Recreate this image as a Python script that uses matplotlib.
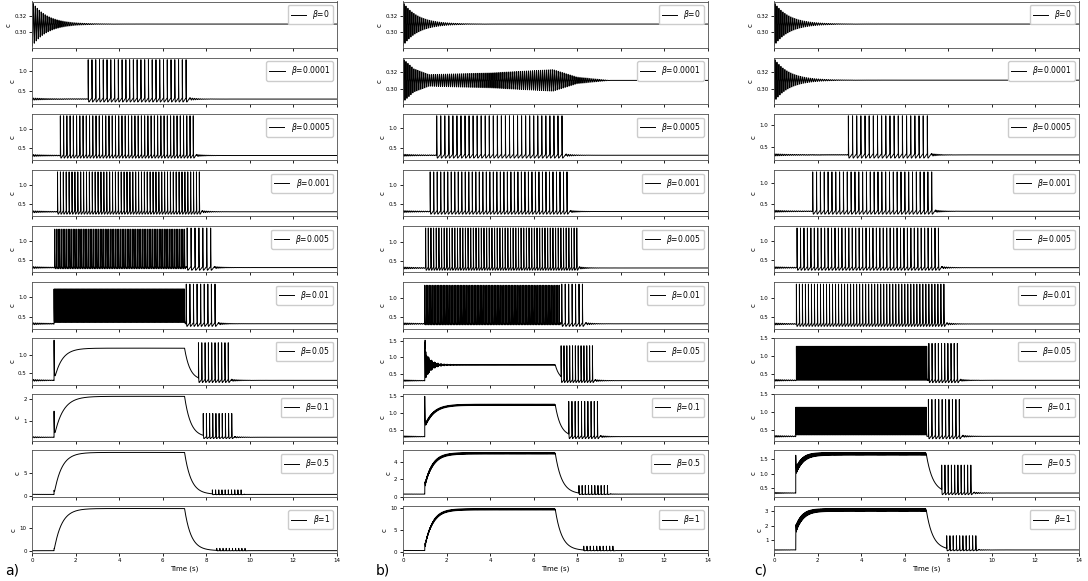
import numpy as np
import matplotlib.pyplot as plt

# time axis of the simulated runs (s)
t = np.linspace(0, 14, 28001)

betas = ['0', '0.0001', '0.0005', '0.001', '0.005', '0.01', '0.05', '0.1', '0.5', '1']
panel_tags = ['a)', 'b)', 'c)']

# resting level and the decaying ring at the start of every run
rest_c = 0.31
ring_amp, ring_tau, ring_hz = 0.026, 0.7, 11.0

# spike bursts: (first spike s, last spike s, number of spikes, peak c, trough c)
bursts_a = [
    [],
    [(2.57, 7.07, 27, 1.27, 0.21)],
    [(1.29, 7.40, 42, 1.34, 0.21)],
    [(1.16, 7.68, 50, 1.35, 0.21)],
    [(1.03, 7.00, 78, 1.32, 0.23), (7.12, 8.20, 7, 1.35, 0.21)],
    [(1.00, 7.00, 240, 1.22, 0.25), (7.08, 8.40, 9, 1.35, 0.21)],
    [(7.64, 9.01, 10, 1.35, 0.22)],
    [(7.86, 9.17, 10, 1.35, 0.22)],
    [(8.28, 9.60, 10, 1.30, 0.22)],
    [(8.48, 9.78, 10, 1.30, 0.22)],
]
bursts_b = [
    [],
    [],
    [(1.55, 7.31, 32, 1.32, 0.21)],
    [(1.25, 7.54, 40, 1.34, 0.21)],
    [(1.04, 7.99, 58, 1.36, 0.21)],
    [(1.00, 7.18, 88, 1.33, 0.23), (7.30, 8.25, 7, 1.36, 0.21)],
    [(7.27, 8.71, 12, 1.35, 0.22)],
    [(7.62, 8.94, 10, 1.35, 0.22)],
    [(8.09, 9.40, 10, 1.30, 0.22)],
    [(8.31, 9.65, 10, 1.30, 0.22)],
]
bursts_c = [
    [],
    [],
    [(3.42, 7.05, 20, 1.21, 0.21)],
    [(1.78, 7.25, 32, 1.28, 0.21)],
    [(1.06, 7.56, 42, 1.35, 0.21)],
    [(1.03, 7.81, 50, 1.37, 0.21)],
    [(1.03, 7.02, 125, 1.27, 0.25), (7.12, 8.43, 10, 1.35, 0.21)],
    [(1.00, 7.00, 240, 1.13, 0.34), (7.10, 8.52, 10, 1.35, 0.21)],
    [(7.71, 9.05, 10, 1.30, 0.22)],
    [(7.94, 9.28, 10, 1.30, 0.22)],
]

# stimulus plateau: (level, onset peak, low after onset, rise tau, decay tau, ripple, onset ring)
plateau_a = [None] * 6 + [
    (1.20, 1.42, 0.30, 0.35, 0.25, 0.0, 0.0),
    (2.10, 1.45, 0.30, 0.40, 0.28, 0.0, 0.0),
    (9.50, 1.20, 0.30, 0.35, 0.30, 0.0, 0.0),
    (18.5, 1.20, 0.30, 0.35, 0.30, 0.0, 0.0),
]
plateau_b = [None] * 6 + [
    (0.78, 1.45, 0.30, 0.25, 0.20, 0.012, 0.90),
    (1.25, 1.50, 0.60, 0.40, 0.25, 0.02, 0.0),
    (5.00, 1.50, 1.20, 0.35, 0.30, 0.10, 0.0),
    (9.70, 1.50, 1.00, 0.35, 0.30, 0.18, 0.0),
]
plateau_c = [None] * 8 + [
    (1.70, 1.65, 1.05, 0.30, 0.30, 0.05, 0.0),
    (3.10, 1.80, 1.70, 0.30, 0.30, 0.10, 0.0),
]

# slow swell of the ring in panel b), beta=0.0001
swell_t = [0.0, 0.5, 1.2, 4.0, 6.9, 8.0, 9.5, 14.0]
swell_amp = [0.026, 0.014, 0.007, 0.009, 0.013, 0.004, 0.0, 0.0]

yticks_a = [[0.30, 0.32], [0.5, 1.0], [0.5, 1.0], [0.5, 1.0], [0.5, 1.0],
            [0.5, 1.0], [0.5, 1.0], [1, 2], [0, 5], [0, 10]]
yticks_b = [[0.30, 0.32], [0.30, 0.32], [0.5, 1.0], [0.5, 1.0], [0.5, 1.0],
            [0.5, 1.0], [0.5, 1.0, 1.5], [0.5, 1.0, 1.5], [0, 2, 4], [0, 5, 10]]
yticks_c = [[0.30, 0.32], [0.30, 0.32], [0.5, 1.0], [0.5, 1.0], [0.5, 1.0],
            [0.5, 1.0], [0.5, 1.0, 1.5], [0.5, 1.0, 1.5], [0.5, 1.0, 1.5], [1, 2, 3]]

columns = [(bursts_a, plateau_a, yticks_a),
           (bursts_b, plateau_b, yticks_b),
           (bursts_c, plateau_c, yticks_c)]


def add_plateau(y, p):
    level, onset, low, tau_r, tau_d, ripple, oring = p
    on = (t >= 1.0) & (t < 7.0)
    d = t[on] - 1.0
    y[on] = level - (level - low) * np.exp(-d / tau_r) + (onset - low) * np.exp(-d / 0.012)
    # upward-only ringing right after the onset
    y[on] += oring * np.exp(-d / 0.25) * (1 - np.cos(2 * np.pi * 30 * d)) / 2
    y[on] += ripple * (1 + 2 * np.exp(-d / 0.4)) * np.sin(2 * np.pi * 23 * d)
    off = t >= 7.0
    y7 = level - (level - low) * np.exp(-6.0 / tau_r)
    y[off] = rest_c + (y7 - rest_c) * np.exp(-(t[off] - 7.0) / tau_d)


def add_spikes(y, seg):
    start, end, n, peak, trough = seg
    # snap spike times on the sample grid so every peak is drawn in full
    times = t[np.searchsorted(t, np.linspace(start, end, n))]
    gap = (end - start) / (n - 1)
    k = np.searchsorted(times, t, side='right') - 1
    inside = (k >= 0) & (t < end + gap)
    d = t[inside] - times[k[inside]]
    ramp = trough + (rest_c + 0.03 - trough) * d / gap
    y[inside] = ramp + (peak - ramp) * np.exp(-d / 0.006)
    return end + gap


def trace(col, i):
    bursts, plateaus, _ = columns[col]
    if (col, i) == (1, 1):
        return rest_c - np.interp(t, swell_t, swell_amp) * np.cos(2 * np.pi * ring_hz * t)
    y = rest_c - ring_amp * np.exp(-t / ring_tau) * np.cos(2 * np.pi * ring_hz * t)
    if plateaus[i] is not None:
        add_plateau(y, plateaus[i])
    elif bursts[i]:
        pre = t < bursts[i][0][0]
        y[pre] += 0.008 * np.sin(2 * np.pi * ring_hz * t[pre])
    te = None
    for seg in bursts[i]:
        te = add_spikes(y, seg)
    if te is not None:
        after = t >= te
        y[after] += 0.03 * np.exp(-(t[after] - te) / 0.4) * np.sin(2 * np.pi * ring_hz * (t[after] - te))
    return y


W, H = 1088, 581
fig = plt.figure(figsize=(W / 100, H / 100), dpi=100)

col_left = [32.3, 403.0, 774.0]
ax_w, ax_h = 304.5, 46.5
tag_x = [5, 376, 754]

for col in range(3):
    yticks = columns[col][2]
    for i, b in enumerate(betas):
        top = 1.5 + 56.1 * i
        ax = fig.add_axes([col_left[col] / W, 1 - (top + ax_h) / H, ax_w / W, ax_h / H])
        ax.plot(t, trace(col, i), color='black', lw=0.7, label=r'$\beta$=' + b)
        ax.set_xlim(0, 14)
        ax.set_xticks(range(0, 15, 2))
        ax.set_yticks(yticks[i])
        ax.tick_params(labelsize=4, length=2.5, width=0.6, pad=1.5)
        ax.set_ylabel('c', fontsize=5, labelpad=2)
        for s in ax.spines.values():
            s.set_linewidth(0.6)
            s.set_color('0.3')
        ax.legend(loc='upper right', fontsize=5.5, handlelength=2.0,
                  borderaxespad=0.5, framealpha=1.0)
        if i == len(betas) - 1:
            ax.set_xlabel('Time (s)', fontsize=5, labelpad=1.5)
        else:
            ax.tick_params(labelbottom=False)
    fig.text(tag_x[col] / W, 1 - 571 / H, panel_tags[col], fontsize=10, va='center')

fig.savefig('out.png', dpi=100)
